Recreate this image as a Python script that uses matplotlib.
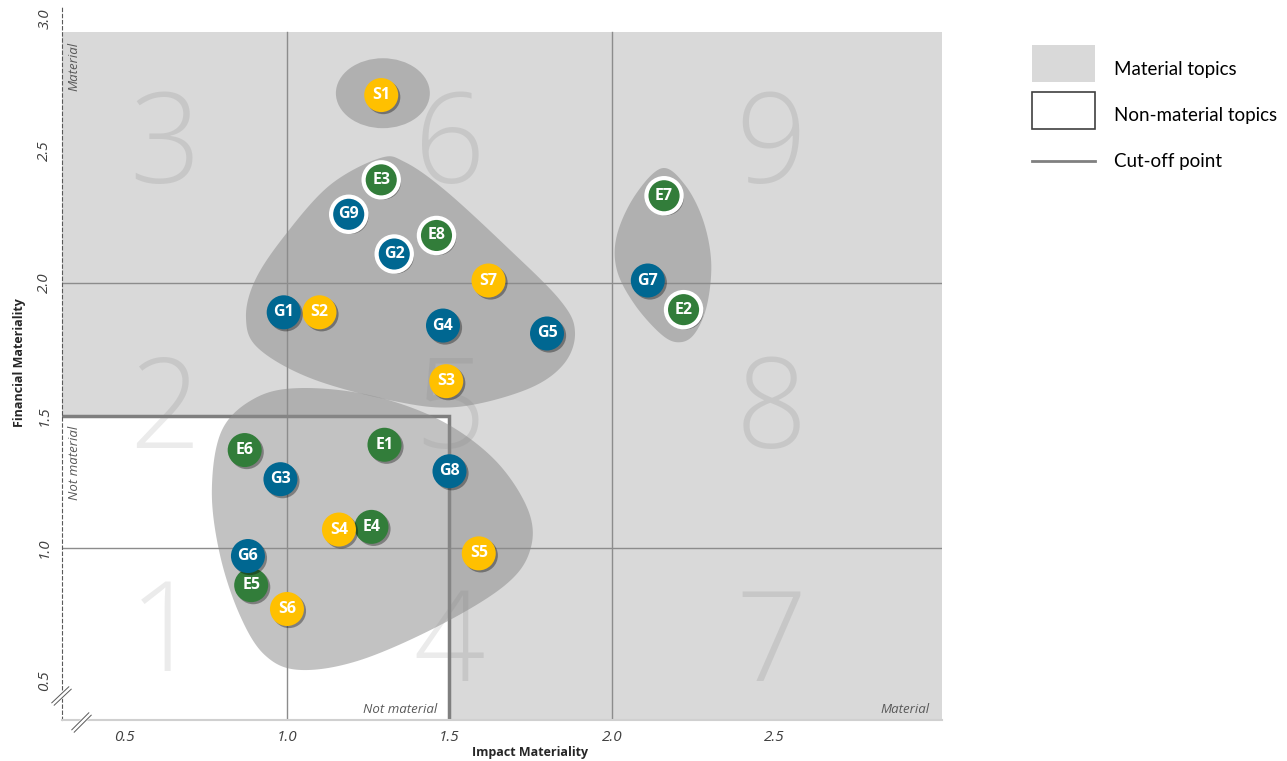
import numpy as np
import matplotlib
matplotlib.use("Agg")
import matplotlib.pyplot as plt
from matplotlib.patches import Rectangle, Ellipse, Polygon
import matplotlib.patheffects as pe

# ---------------- data ----------------
topics = ['S1', 'E3', 'G9', 'E8', 'G2', 'S7', 'S2', 'G1', 'G4', 'G5', 'S3',
          'E7', 'G7', 'E2', 'E6', 'E1', 'G3', 'G8', 'E4', 'S4', 'E5', 'G6',
          'S6', 'S5']
impact = [1.29, 1.29, 1.19, 1.46, 1.33, 1.62, 1.10, 0.99, 1.48, 1.80, 1.49,
          2.16, 2.11, 2.22, 0.87, 1.30, 0.98, 1.50, 1.26, 1.16, 0.89, 0.88,
          1.00, 1.59]
financial = [2.71, 2.39, 2.26, 2.18, 2.11, 2.01, 1.89, 1.89, 1.84, 1.81, 1.63,
             2.33, 2.01, 1.90, 1.37, 1.39, 1.26, 1.29, 1.08, 1.07, 0.86, 0.97,
             0.77, 0.98]
highlighted = ['E3', 'G9', 'E8', 'G2', 'E7', 'E2']

x_ticks = [0.5, 1.0, 1.5, 2.0, 2.5]
y_ticks = [0.5, 1.0, 1.5, 2.0, 2.5, 3.0]
cutoff = 1.5
grid_vals = [1.0, 2.0]

zone_labels = ['3', '6', '9', '2', '5', '8', '1', '4', '7']
zone_x = [0.625, 1.5, 2.49, 0.625, 1.5, 2.49, 0.625, 1.5, 2.49]
zone_y = [2.50, 2.50, 2.50, 1.50, 1.50, 1.50, 0.66, 0.62, 0.62]

# cluster outlines (data units)
blob_top_x = [1.286, 1.132, 0.994, 0.902, 0.874, 0.911, 1.071, 1.317, 1.517,
              1.732, 1.849, 1.886, 1.840, 1.671, 1.486, 1.363]
blob_top_y = [2.472, 2.370, 2.181, 2.011, 1.868, 1.755, 1.642, 1.558, 1.532,
              1.596, 1.691, 1.815, 1.936, 2.143, 2.351, 2.457]
blob_right_x = [2.154, 2.225, 2.280, 2.305, 2.292, 2.255, 2.209, 2.154, 2.071,
                2.015, 2.015, 2.071]
blob_right_y = [2.434, 2.370, 2.238, 2.079, 1.917, 1.811, 1.777, 1.804, 1.917,
                2.049, 2.181, 2.332]
blob_low_x = [1.040, 1.255, 1.471, 1.640, 1.742, 1.748, 1.671, 1.471, 1.225,
              1.040, 0.932, 0.855, 0.794, 0.769, 0.800, 0.902]
blob_low_y = [1.604, 1.577, 1.483, 1.332, 1.143, 0.992, 0.860, 0.709, 0.577,
              0.540, 0.596, 0.747, 0.974, 1.219, 1.445, 1.566]
ellipse_center = (1.295, 2.717)
ellipse_size = (0.289, 0.264)

colors = {'E': '#327D3A', 'G': '#006791', 'S': '#FFC000'}

XMIN, XMAX = 0.308, 3.015
YMIN, YMAX = 0.351, 3.05
GRAY_TOP = 2.947

FONT = ['Open Sans', 'DejaVu Sans']
plt.rcParams['font.family'] = FONT


def smooth_closed(xs, ys, n=30):
    P = np.column_stack([xs, ys])
    N = len(P)
    t = np.linspace(0, 1, n, endpoint=False)[:, None]
    out = []
    for i in range(N):
        p0, p1, p2, p3 = P[(i - 1) % N], P[i], P[(i + 1) % N], P[(i + 2) % N]
        out.append(0.5 * ((2 * p1) + (-p0 + p2) * t
                          + (2 * p0 - 5 * p1 + 4 * p2 - p3) * t ** 2
                          + (-p0 + 3 * p1 - 3 * p2 + p3) * t ** 3))
    return np.vstack(out)


fig = plt.figure(figsize=(12.87, 7.61), dpi=100)
fig.patch.set_facecolor('white')
ax = fig.add_axes([62 / 1287, 41 / 761, 880 / 1287, 715 / 761])
ax.set_xlim(XMIN, XMAX)
ax.set_ylim(YMIN, YMAX)
ax.set_facecolor('none')

# background zones
ax.add_patch(Rectangle((XMIN, YMIN), XMAX - XMIN, GRAY_TOP - YMIN,
                       facecolor='#D9D9D9', edgecolor='none', zorder=0))
ax.add_patch(Rectangle((XMIN, YMIN), cutoff - XMIN, cutoff - YMIN,
                       facecolor='white', edgecolor='none', zorder=0.5))

# zone numbers
for lab, zx, zy in zip(zone_labels, zone_x, zone_y):
    ax.text(zx, zy, lab, fontsize=90, fontweight=300, color='black',
            alpha=0.08, ha='center', va='center', zorder=1)

# grid lines
for g in grid_vals:
    ax.plot([g, g], [YMIN, GRAY_TOP], color='#8C8C8C', lw=1.0, zorder=1.5)
    ax.plot([XMIN, XMAX], [g, g], color='#8C8C8C', lw=1.0, zorder=1.5)

# cutoff line
ax.plot([XMIN, cutoff, cutoff], [cutoff, cutoff, YMIN + 0.005], color='#7F7F7F',
        lw=2.5, zorder=2, solid_joinstyle='miter')

# blobs
blob_kw = dict(facecolor='#8C8C8C', alpha=0.53, edgecolor='none', zorder=3)
for bx, by in [(blob_top_x, blob_top_y), (blob_right_x, blob_right_y),
               (blob_low_x, blob_low_y)]:
    ax.add_patch(Polygon(smooth_closed(bx, by), closed=True, **blob_kw))
ax.add_patch(Ellipse(ellipse_center, ellipse_size[0], ellipse_size[1], **blob_kw))

# markers
shadow = [pe.SimplePatchShadow(offset=(1.5, -1.5), shadow_rgbFace='black',
                               alpha=0.35), pe.Normal()]
for i, (t, x, y) in enumerate(zip(topics, impact, financial)):
    z = 10 + 2 * i
    if t in highlighted:
        sc = ax.scatter([x], [y], s=645, color=colors[t[0]], edgecolors='white',
                        linewidths=3.0, zorder=z)
    else:
        sc = ax.scatter([x], [y], s=600, color=colors[t[0]], edgecolors='none',
                        zorder=z)
    sc.set_path_effects(shadow)
    ax.text(x, y, t, color='white', fontsize=11.5, fontweight='bold',
            ha='center', va='center', zorder=z + 1)

# corner annotations
note_kw = dict(fontsize=9.5, style='italic', color='#595959', zorder=5)
ax.text(0.345, 2.912, 'Material', rotation=90, ha='center', va='top', **note_kw)
ax.text(0.345, 1.46, 'Not material', rotation=90, ha='center', va='top', **note_kw)
ax.text(1.462, 0.392, 'Not material', ha='right', va='center', **note_kw)
ax.text(2.978, 0.392, 'Material', ha='right', va='center', **note_kw)

# axes styling
ax.tick_params(axis='both', length=0, labelcolor='#404040')
ax.tick_params(axis='x', pad=7)
ax.tick_params(axis='y', pad=7)
ax.set_xticks(x_ticks)
ax.set_yticks(y_ticks)
ax.set_xticklabels([f'{v:.1f}' for v in x_ticks], fontstyle='italic',
                   fontsize=11, color='#404040')
ax.set_yticklabels([f'{v:.1f}' for v in y_ticks], fontstyle='italic',
                   fontsize=11, color='#404040', rotation=90, va='center')
for s in ['top', 'right']:
    ax.spines[s].set_visible(False)
ax.spines['left'].set_linestyle((0, (3, 2.5)))
ax.spines['left'].set_color('#595959')
ax.spines['left'].set_linewidth(0.8)
ax.spines['bottom'].set_color('#D0D0D0')
ax.spines['bottom'].set_linewidth(1.5)

ax.set_xlabel('Impact Materiality', fontsize=9, fontweight='bold', color='#262626')
ax.xaxis.set_label_coords((530 - 62) / 880, -0.036)
ax.set_ylabel('Financial Materiality', fontsize=9, fontweight='bold', color='#262626')
ax.yaxis.set_label_coords(-0.041, 0.5)

# overlay in pixel space for legend and axis-break marks
ov = fig.add_axes([0, 0, 1, 1])
ov.set_xlim(0, 1287)
ov.set_ylim(761, 0)
ov.axis('off')
ov.patch.set_alpha(0)

for (x0, y0, x1, y1) in [(53, 704, 70, 688), (73, 731, 90, 714)]:
    ov.plot([x0, x1], [y0, y1], color='white', lw=4, solid_capstyle='butt')
    ov.plot([x0 - 1.2, x1 - 1.2], [y0 - 1.2, y1 - 1.2], color='#595959', lw=0.7)
    ov.plot([x0 + 1.2, x1 + 1.2], [y0 + 1.2, y1 + 1.2], color='#595959', lw=0.7)

ov.add_patch(Rectangle((1032, 45), 63, 37, facecolor='#D9D9D9', edgecolor='none'))
ov.add_patch(Rectangle((1032, 92), 63, 37, facecolor='white', edgecolor='#404040',
                       lw=1.2))
ov.plot([1032, 1095], [161, 161], color='#808080', lw=2)
leg_kw = dict(fontsize=13.5, color='black', ha='left', va='center',
              family=['Lato', 'DejaVu Sans'])
ov.text(1114, 70, 'Material topics', **leg_kw)
ov.text(1114, 116, 'Non-material topics', **leg_kw)
ov.text(1114, 161, 'Cut-off point', **leg_kw)

fig.savefig('out.png', dpi=100, facecolor='white')
